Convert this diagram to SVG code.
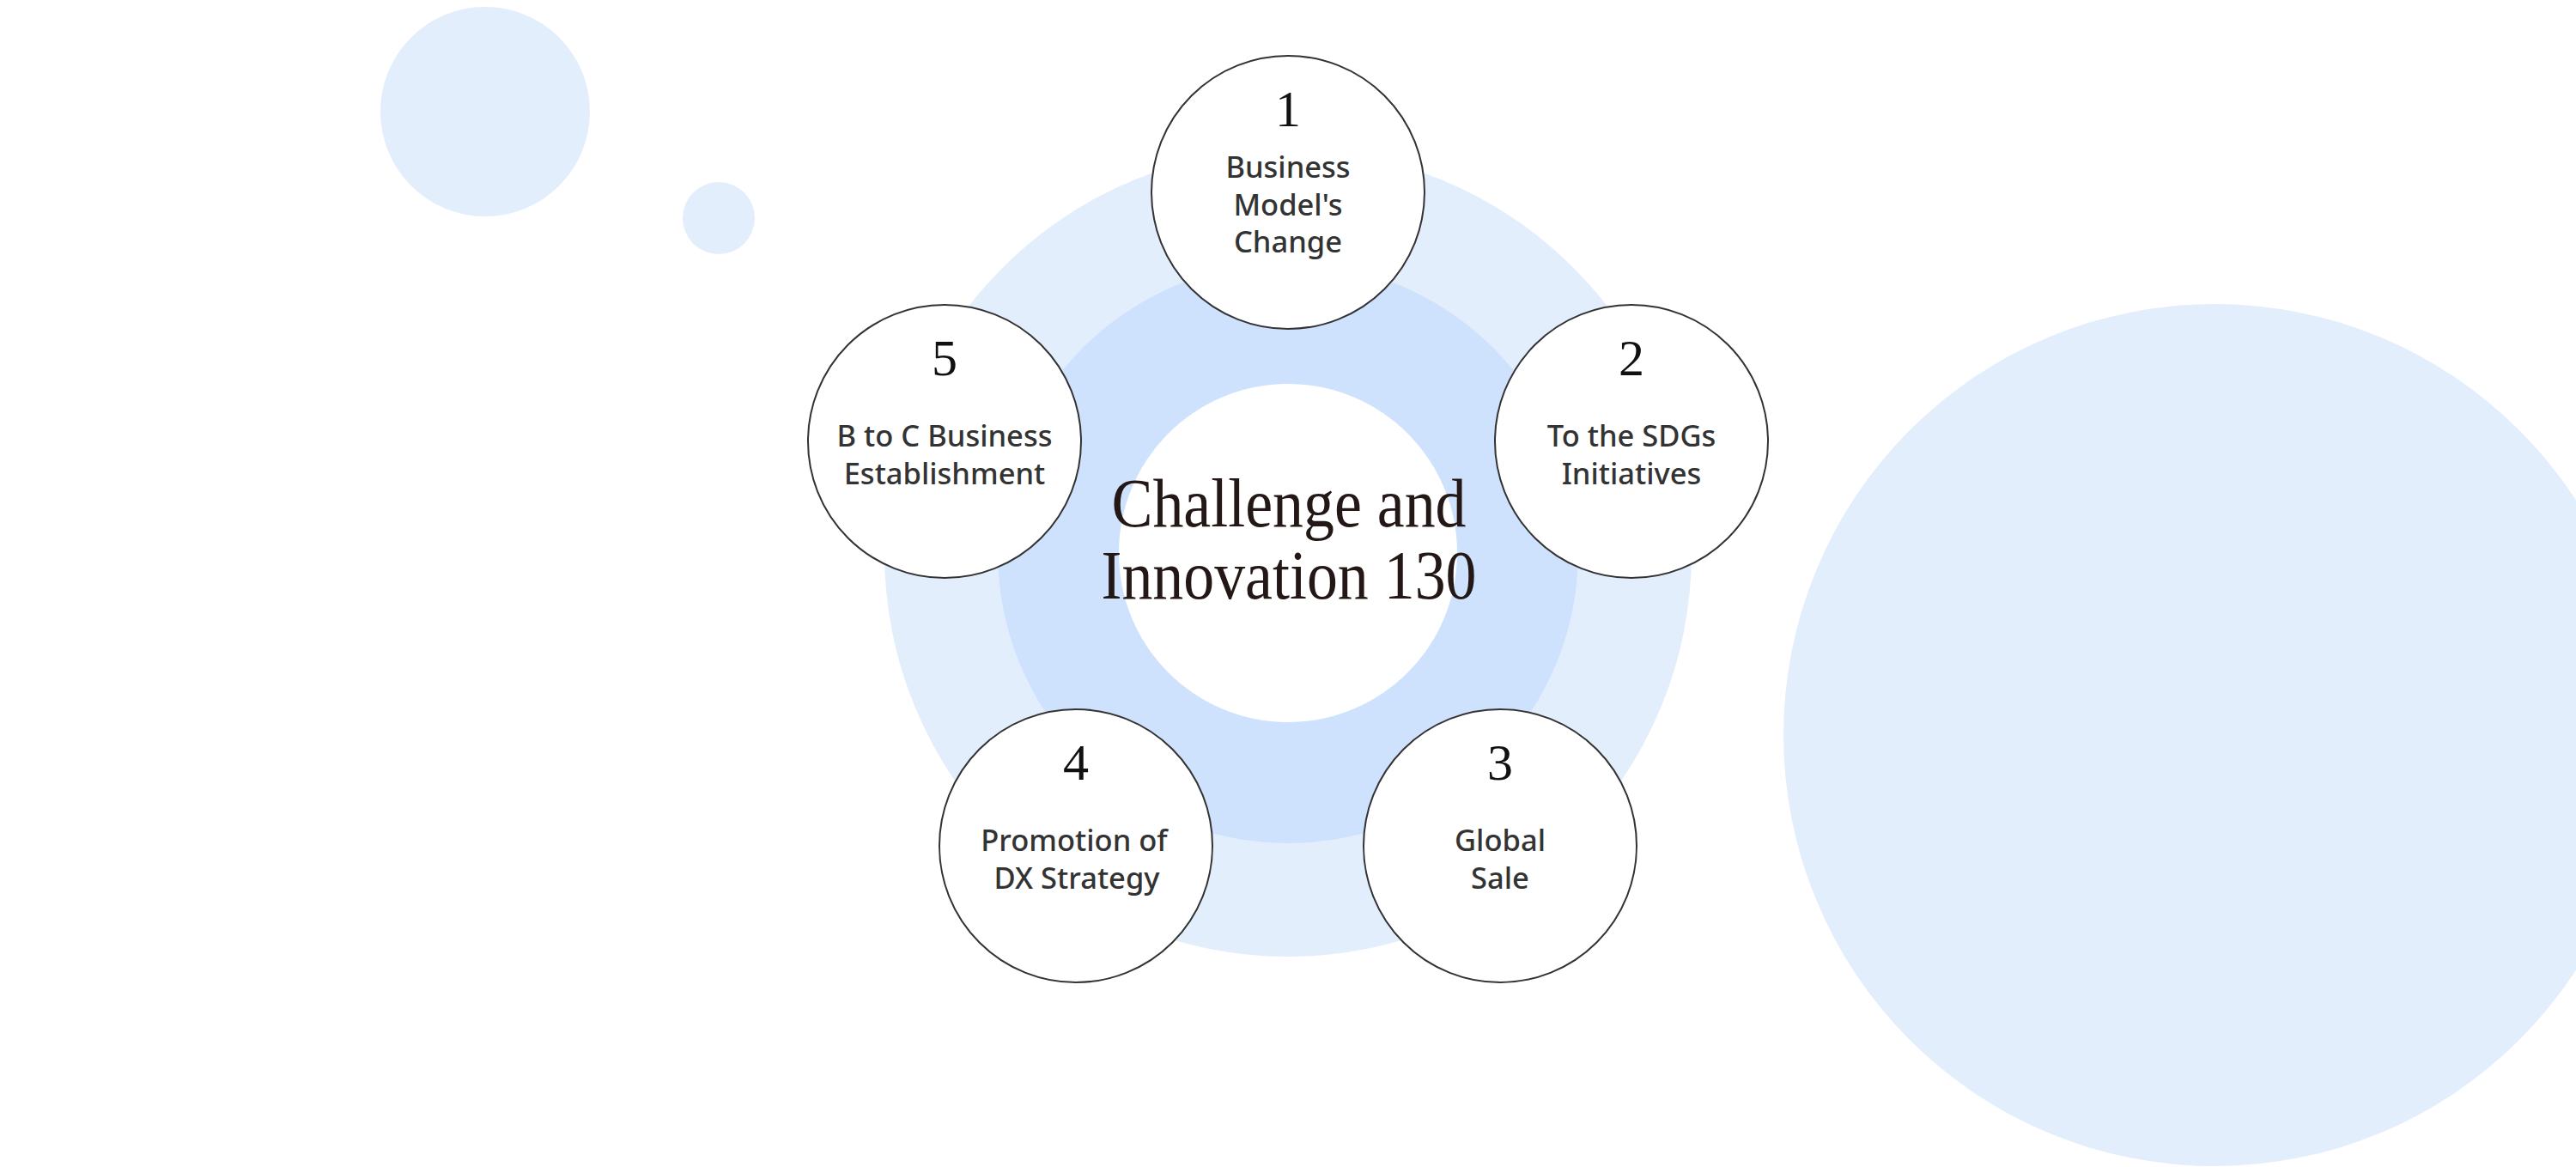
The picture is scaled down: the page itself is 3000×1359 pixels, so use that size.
<svg xmlns="http://www.w3.org/2000/svg" width="3000" height="1359" viewBox="0 0 3000 1359">
<style>
.bg1{fill:#e3eefd}
.bg2{fill:#cfe2fd}
.node circle{fill:#ffffff;stroke:#333333;stroke-width:2}
.num{font-family:"Liberation Serif","Times New Roman",serif;font-size:60px;fill:#111111;text-anchor:middle}
.lbl{font-family:"Noto Sans","Liberation Sans",sans-serif;font-size:34.5px;font-weight:500;fill:#333333;text-anchor:middle}
.title{font-family:"Liberation Serif","Times New Roman",serif;font-size:80px;fill:#231815;text-anchor:middle}
</style>
<g id="background">
<circle class="bg1" cx="565" cy="130" r="122"/>
<circle class="bg1" cx="837" cy="254" r="42"/>
<circle class="bg1" cx="2579" cy="856" r="502"/>
<circle class="bg1" cx="1500" cy="644" r="470"/>
<circle class="bg2" cx="1500" cy="644" r="338"/>
<circle fill="#ffffff" cx="1500" cy="644" r="197"/>
</g>
<g id="center">
<text class="title" x="1501" y="613" textLength="413" lengthAdjust="spacingAndGlyphs">Challenge and</text>
<text class="title" x="1501" y="697" textLength="437" lengthAdjust="spacingAndGlyphs">Innovation 130</text>
</g>
<g id="connectors"></g>
<g id="node1" class="node">
<circle cx="1500" cy="224" r="159"/>
<text class="num" x="1500" y="147">1</text>
<text class="lbl" x="1500" y="207">Business</text>
<text class="lbl" x="1500" y="251">Model's</text>
<text class="lbl" x="1500" y="294">Change</text>
</g>
<g id="node2" class="node">
<circle cx="1900" cy="514" r="159"/>
<text class="num" x="1900" y="437">2</text>
<text class="lbl" x="1900" y="520">To the SDGs</text>
<text class="lbl" x="1900" y="564">Initiatives</text>
</g>
<g id="node3" class="node">
<circle cx="1747" cy="985" r="159"/>
<text class="num" x="1747" y="908">3</text>
<text class="lbl" x="1747" y="991">Global</text>
<text class="lbl" x="1747" y="1035">Sale</text>
</g>
<g id="node4" class="node">
<circle cx="1253" cy="985" r="159"/>
<text class="num" x="1253" y="908">4</text>
<text class="lbl" x="1251" y="991">Promotion of</text>
<text class="lbl" x="1254" y="1035">DX Strategy</text>
</g>
<g id="node5" class="node">
<circle cx="1100" cy="514" r="159"/>
<text class="num" x="1100" y="437">5</text>
<text class="lbl" x="1100" y="520">B to C Business</text>
<text class="lbl" x="1100" y="564">Establishment</text>
</g>
</svg>
